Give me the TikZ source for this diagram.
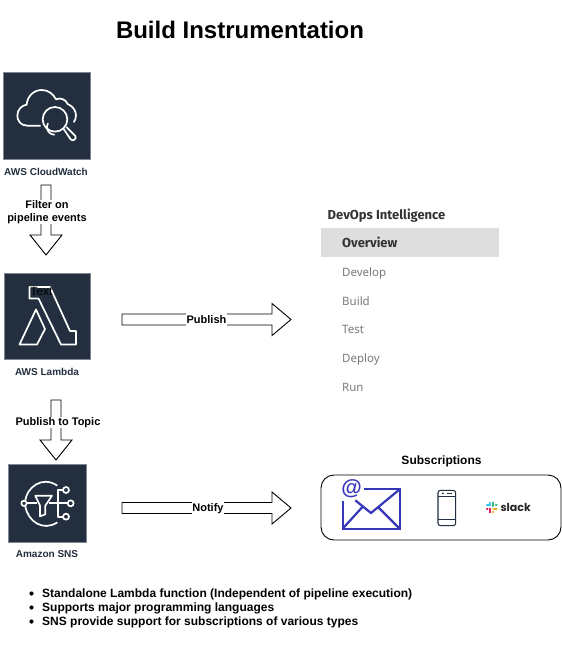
\documentclass[tikz,border=0pt]{standalone}
\usepackage{fontspec}
\setmainfont{Liberation Sans}
\newfontfamily\navfont{Noto Sans}
\newfontfamily\navbold{Fira Sans}
\newfontfamily\slackfont{Poppins}
\usetikzlibrary{calc}
\definecolor{awsnavy}{HTML}{232F3E}
\definecolor{awsedge}{HTML}{7D8792}
\definecolor{navgrey}{HTML}{7A7A7A}
\definecolor{navdark}{HTML}{333333}
\definecolor{mailblue}{HTML}{3636B8}
\tikzset{
  x=1pt,y=-1pt,
  awsbox/.style={draw=awsedge,line width=0.8pt,fill=awsnavy,inner sep=0pt,outer sep=0pt},
  iconline/.style={draw=white,line width=1.7pt,line join=round},
  awslabel/.style={font=\fontsize{10}{12}\selectfont\bfseries,text=awsnavy,inner sep=0pt},
  blockarrow/.style={draw=black,line width=0.9pt,fill=white,line join=miter},
  flowlabel/.style={font=\fontsize{11}{13}\selectfont\bfseries,fill=white,inner sep=0.5pt,align=center},
  hlabel/.style={flowlabel,minimum height=14pt},
  navitem/.style={font=\navfont\fontsize{11.5}{14}\selectfont,text=navgrey,anchor=base west,inner sep=0pt},
  navhead/.style={font=\navbold\bfseries\fontsize{13}{15}\selectfont,text=navdark,anchor=base west,inner sep=0pt},
  bullettext/.style={font=\fontsize{12}{14}\selectfont\bfseries,anchor=base west,inner sep=0pt},
  slackbar/.style={line width=2pt,line cap=round},
}
\definecolor{slackblue}{RGB}{54,197,240}
\definecolor{slackgreen}{RGB}{46,182,125}
\definecolor{slackred}{RGB}{224,30,90}
\definecolor{slackyellow}{RGB}{236,178,46}
\newcommand{\vblock}[2]{%
  \draw[blockarrow] let \p1=(#1),\p2=(#2) in
    (\x1-5,\y1) -- (\x1+5,\y1) -- (\x1+5,\y2+20) -- (\x1+16,\y2+20) -- (\p2)
    -- (\x1-16,\y2+20) -- (\x1-5,\y2+20) -- cycle;}
\newcommand{\hblock}[2]{%
  \draw[blockarrow] let \p1=(#1),\p2=(#2) in
    (\x1,\y1-5.5) -- (\x2-19,\y1-5.5) -- (\x2-19,\y1-16) -- (\p2)
    -- (\x2-19,\y1+16) -- (\x2-19,\y1+5.5) -- (\x1,\y1+5.5) -- cycle;}
\begin{document}
\begin{tikzpicture}
\useasboundingbox (0,0) rectangle (562,648);
\fill[white] (0,0) rectangle (562,648);
\node[font=\fontsize{24}{28}\selectfont\bfseries,inner sep=0pt] (title) at (240,30) {Build Instrumentation};

% CloudWatch
\node[awsbox,minimum size=87pt] (cw) at (46.5,115.5) {};
\begin{scope}[shift={(0,60)},x=0.3333pt,y=-0.3333pt]
  \draw[iconline] (122,197) -- (82,197) .. controls (62,197) and (52,182) .. (52,167)
    .. controls (52,148) and (66,136) .. (80,134)
    .. controls (82,108) and (102,90) .. (125,90)
    .. controls (145,90) and (160,102) .. (168,118)
    .. controls (180,112) and (198,118) .. (203,132)
    .. controls (218,138) and (228,152) .. (228,166)
    .. controls (228,175) and (225,182) .. (221,187);
  \fill[awsnavy] (165,178) circle (38);
  \draw[iconline] (165,178) circle (37);
  \draw[iconline] (144,190) arc (210:90:23);
  \draw[iconline] (191,207) -- (212,238) .. controls (218,246) and (232,236) .. (226,228) -- (199,201);
\end{scope}
\node[awslabel] (cwl) at (46,171.5) {AWS CloudWatch};

% Lambda
\node[awsbox,minimum size=86pt] (lam) at (47,316) {};
\draw[iconline] (29.5,287) -- (50,287) -- (70,331) -- (76,331) -- (76,344.5) -- (61,344.5) -- (38.5,298.5) -- (29.5,298.5) -- cycle;
\draw[iconline] (19.5,344.5) -- (36,309.5) -- (45,329) -- (37,344.5) -- cycle;
\node[font=\fontsize{12}{14}\selectfont,inner sep=0pt] (lamt) at (41.5,291.5) {Text};
\node[awslabel] (laml) at (47,371.5) {AWS Lambda};

% SNS
\node[awsbox,minimum size=78pt] (sns) at (47,503) {};
\begin{scope}[shift={(0,455)},x=0.3333pt,y=-0.3333pt]
  \draw[iconline] (172,92) .. controls (125,60) and (80,100) .. (76,136);
  \draw[iconline] (76,154) .. controls (84,200) and (130,230) .. (172,202);
  \draw[iconline] (72,145) circle (8);
  \draw[iconline] (80,145) -- (112,145);
  \draw[iconline] (106,122) -- (156,122) -- (136,152) -- (136,178) -- (120,184) -- (120,152) -- cycle;
  \draw[iconline] (148,145) -- (203,145);
  \draw[iconline] (212,145) circle (9);
  \draw[iconline] (189,105) -- (174,105) -- (174,185) -- (189,185);
  \draw[iconline] (198,105) circle (9);
  \draw[iconline] (198,185) circle (9);
\end{scope}
\node[awslabel] (snsl) at (47,554.5) {Amazon SNS};

% Block arrows
\coordinate (a1s) at (46,185); \coordinate (a1e) at (46,255);
\coordinate (a2s) at (56,400); \coordinate (a2e) at (56,460);
\coordinate (a3s) at (122,319.5); \coordinate (a3e) at (291,319.5);
\coordinate (a4s) at (122,508); \coordinate (a4e) at (291,508);
\vblock{a1s}{a1e}
\vblock{a2s}{a2e}
\hblock{a3s}{a3e}
\hblock{a4s}{a4e}
\node[flowlabel] (a1l) at (47,212) {Filter on\\pipeline events};
\node[flowlabel] (a2l) at (58,422.5) {Publish to Topic};
\node[hlabel] (a3l) at (206.5,319.5) {Publish};
\node[hlabel] (a4l) at (208,508.5) {Notify};

% Nav panel
\node[navhead] (dev) at (327.5,219) {DevOps Intelligence};
\node[fill=black!13,minimum width=178pt,minimum height=29pt,inner sep=0pt] (ovb) at (410,242.5) {};
\node[navhead] (ov) at (342,247.5) {Overview};
\node[navitem] (n1) at (342,276.5) {Develop};
\node[navitem] (n2) at (342,305) {Build};
\node[navitem] (n3) at (342,333.7) {Test};
\node[navitem] (n4) at (342,362.5) {Deploy};
\node[navitem] (n5) at (342,391.5) {Run};

% Subscriptions
\node[font=\fontsize{12}{14}\selectfont\bfseries,inner sep=0pt] (subt) at (441.5,461.5) {Subscriptions};
\node[draw=black,line width=0.9pt,rounded corners=13pt,minimum width=240pt,minimum height=65pt,inner sep=0pt] (subs) at (441,507.5) {};
\begin{scope}[shift={(310,450)},x=0.3333pt,y=-0.3333pt]
  % envelope
  \draw[mailblue,line width=2.2pt] (162,118) -- (269,118) -- (269,236) -- (98,236) -- (98,153);
  \draw[mailblue,line width=2.2pt] (136,151) -- (183,189) -- (269,118);
  \draw[mailblue,line width=2.2pt] (98,236) -- (160,168);
  \draw[mailblue,line width=2.2pt] (269,236) -- (205,172);
  \node[font=\fontsize{21}{24}\selectfont\bfseries,text=mailblue,inner sep=0pt] (at) at (125,117) {@};
  % phone
  \draw[awsnavy,line width=1.1pt,rounded corners=2.5pt] (384,121) rectangle (437,227);
  \draw[awsnavy,line width=1pt] (384,139) -- (437,139);
  \draw[awsnavy,line width=1pt] (384,210) -- (437,210);
  \draw[awsnavy,line width=0.8pt] (410,130) -- (425,130);
  \fill[awsnavy] (399,130) circle (3);
  % slack
  \draw[slackbar,slackblue] (531,166) -- (541,166);
  \draw[slackbar,slackblue] (541,158) -- (541,160);
  \draw[slackbar,slackgreen] (550,158) -- (550,168);
  \draw[slackbar,slackgreen] (558,166) -- (560,166);
  \draw[slackbar,slackred] (541,176) -- (541,187);
  \draw[slackbar,slackred] (531,176) -- (533,176);
  \draw[slackbar,slackyellow] (550,176) -- (560,176);
  \draw[slackbar,slackyellow] (550,185) -- (550,187);
  \node[font=\slackfont\fontsize{11}{13}\selectfont\bfseries,text=black!85,anchor=west,inner sep=0pt] (sl) at (571,171) {slack};
\end{scope}

% bullets
\node[bullettext] (b1) at (42,597) {Standalone Lambda function (Independent of pipeline execution)};
\node[bullettext] (b2) at (42,611) {Supports major programming languages};
\node[bullettext] (b3) at (42,625) {SNS provide support for subscriptions of various types};
\fill (31.5,593.5) circle (2.1) (31.5,607.5) circle (2.1) (31.5,621.5) circle (2.1);
\end{tikzpicture}
\end{document}
